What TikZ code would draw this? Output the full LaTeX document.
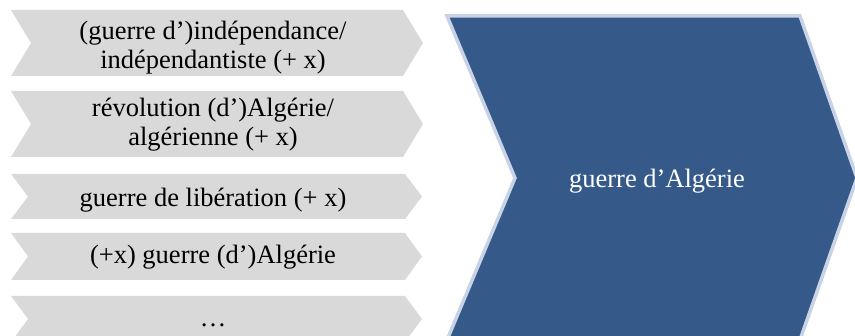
\documentclass[tikz,border=0pt]{standalone}
\usepackage{fontspec}
\setmainfont{Liberation Serif}
\definecolor{chevgray}{HTML}{D9D9D9}
\definecolor{chevblue}{HTML}{355A8A}
\definecolor{chevedge}{HTML}{C9D3E6}
\begin{document}
\begin{tikzpicture}[x=1pt,y=-1pt,
  smallchev/.style={fill=chevgray,draw=none},
  bigchev/.style={fill=chevblue,draw=chevedge,line width=3.5pt,line join=miter},
  lbl/.style={align=center,font=\fontsize{26.5}{29}\selectfont,text=black,inner sep=0pt},
  biglbl/.style={align=center,font=\fontsize{26.5}{29}\selectfont,text=white,inner sep=0pt}]
\useasboundingbox (0,0) rectangle (855,336);
% gray chevrons
\fill[smallchev] (11,10) -- (403,10) -- (423,43) -- (403,76) -- (11,76) -- (31,43) -- cycle;
\fill[smallchev] (11,91) -- (403,91) -- (423,124) -- (403,157) -- (11,157) -- (31,124) -- cycle;
\fill[smallchev] (11,174) -- (405,174) -- (422,196.5) -- (405,219) -- (11,219) -- (28,196.5) -- cycle;
\fill[smallchev] (11,233) -- (405,233) -- (422,256.5) -- (405,280) -- (11,280) -- (28,256.5) -- cycle;
\fill[smallchev] (11,296) -- (405,296) -- (422,319) -- (405,342) -- (11,342) -- (28,319) -- cycle;
% big chevron
\draw[bigchev] (447,16) -- (800,16) -- (857,178) -- (800,340) -- (447,340) -- (515,178) -- cycle;
% labels
\node[lbl] (t1) at (213,48) {(guerre d’)indépendance/\\indépendantiste (+ x)};
\node[lbl] (t2) at (213,125) {révolution (d’)Algérie/\\algérienne (+ x)};
\node[lbl] (t3) at (213,200) {guerre de libération (+ x)};
\node[lbl] (t4) at (213,257) {(+x) guerre (d’)Algérie};
\node[lbl] (t5) at (213,325) {…};
\node[biglbl] (big) at (657,181) {guerre d’Algérie};
\end{tikzpicture}
\end{document}
